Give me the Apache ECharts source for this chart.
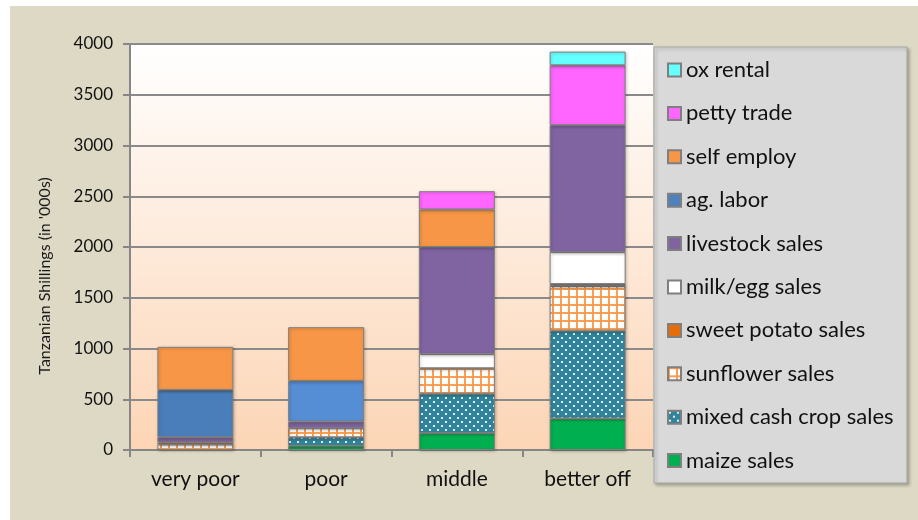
<!DOCTYPE html>
<html>
<head>
<meta charset="utf-8">
<script src="https://cdn.jsdelivr.net/npm/echarts@6/dist/echarts.min.js"></script>
<style>
html,body{margin:0;padding:0;background:#ffffff;}
#chart{width:918px;height:520px;}
</style>
</head>
<body>
<div id="chart"></div>
<script>
// ---- data (values in Tanzanian Shillings, '000s) ----
const categories = ['very poor', 'poor', 'middle', 'better off'];
const maizeSales = [0, 40, 165, 310];
const mixedCashCropSales = [0, 85, 390, 865];
const sunflowerSales = [55, 90, 250, 440];
const sweetPotatoSales = [20, 0, 0, 20];
const milkEggSales = [0, 0, 140, 315];
const livestockSales = [50, 65, 1055, 1250];
const agLabor = [466, 400, 0, 0];
const selfEmploy = [425, 530, 370, 0];
const pettyTrade = [0, 0, 180, 590];
const oxRental = [0, 0, 0, 135];
const yTickValues = [0, 500, 1000, 1500, 2000, 2500, 3000, 3500, 4000];
const yAxisTitle = "Tanzanian Shillings (in '000s)";

// ---- patterns ----
function gridPattern() {
  const c = document.createElement('canvas');
  c.width = 8; c.height = 8;
  const g = c.getContext('2d');
  g.fillStyle = '#ffffff'; g.fillRect(0, 0, 8, 8);
  g.fillStyle = 'rgba(247,150,70,0.9)';
  g.fillRect(0, 0, 2, 8);
  g.fillRect(0, 0, 8, 2);
  return c;
}
function dotPattern() {
  const c = document.createElement('canvas');
  c.width = 8; c.height = 8;
  const g = c.getContext('2d');
  g.fillStyle = '#31849b'; g.fillRect(0, 0, 8, 8);
  g.fillStyle = '#dbeef3';
  g.fillRect(1, 1, 2, 2);
  g.fillRect(5, 5, 2, 2);
  return c;
}
const sunflowerFill = { image: gridPattern(), repeat: 'repeat' };
const mixedFill = { image: dotPattern(), repeat: 'repeat' };

const FONT = "Lato, 'Open Sans', sans-serif";
const nz = arr => arr.map(v => (v === 0 ? '-' : v));

const seriesDefs = [
  { name: 'maize sales', data: maizeSales, color: '#00b050' },
  { name: 'mixed cash crop sales', data: mixedCashCropSales, color: mixedFill },
  { name: 'sunflower sales', data: sunflowerSales, color: sunflowerFill },
  { name: 'sweet potato sales', data: sweetPotatoSales, color: '#e46c0a' },
  { name: 'milk/egg sales', data: milkEggSales, color: '#ffffff' },
  { name: 'livestock sales', data: livestockSales, color: '#8064a2' },
  { name: 'ag. labor', data: agLabor, color: '#4f81bd', itemColors: ['#4a7ebb', '#558ed5', null, null] },
  { name: 'self employ', data: selfEmploy, color: '#f79646' },
  { name: 'petty trade', data: pettyTrade, color: '#ff66ff' },
  { name: 'ox rental', data: oxRental, color: '#66ffff' }
];

const series = seriesDefs.map(d => ({
  name: d.name,
  type: 'bar',
  stack: 'total',
  barWidth: 76,
  itemStyle: {
    color: d.color,
    borderColor: '#7f7f7f',
    borderWidth: 1,
    shadowBlur: 3,
    shadowColor: 'rgba(0,0,0,0.25)',
    shadowOffsetX: 1,
    shadowOffsetY: 1
  },
  data: nz(d.data).map((v, i) => (d.itemColors && d.itemColors[i] && v !== '-')
    ? { value: v, itemStyle: { color: d.itemColors[i] } } : v)
}));

const chart = echarts.init(document.getElementById('chart'), null, { renderer: 'canvas' });
chart.setOption({
  animation: false,
  backgroundColor: '#ffffff',
  textStyle: { fontFamily: FONT },
  graphic: [
    { type: 'rect', z: -10, shape: { x: 10, y: 6, width: 908, height: 514 }, style: { fill: '#ddd9c4' }, silent: true },
    { type: 'rect', z: 1, shape: { x: 654, y: 47, width: 253, height: 436 },
      style: { fill: '#d9d9d9', stroke: '#a6a6a6', lineWidth: 1, shadowBlur: 3, shadowOffsetX: 2, shadowOffsetY: 2, shadowColor: 'rgba(0,0,0,0.25)' }, silent: true },
    { type: 'text', z: 5, x: 45, y: 276, rotation: Math.PI / 2,
      style: { text: yAxisTitle, fill: '#1a1a1a', font: '16px ' + FONT, align: 'center', verticalAlign: 'middle' } }
  ],
  grid: {
    left: 130, right: 265, top: 44, bottom: 70,
    show: true, borderWidth: 0,
    backgroundColor: { type: 'linear', x: 0, y: 0, x2: 0, y2: 1,
      colorStops: [{ offset: 0, color: '#ffffff' }, { offset: 1, color: '#fcd5b5' }] }
  },
  legend: {
    orient: 'vertical',
    left: 667, top: 59,
    padding: 0,
    itemGap: 21.4,
    itemWidth: 13, itemHeight: 13,
    icon: 'rect',
    textStyle: { fontSize: 22, lineHeight: 22, color: '#111111', fontFamily: FONT },
    data: seriesDefs.map(d => d.name).reverse()
  },
  xAxis: {
    type: 'category',
    data: categories,
    axisLine: { lineStyle: { color: '#868686', width: 2 } },
    axisTick: { show: true, length: 7, lineStyle: { color: '#868686', width: 2 } },
    axisLabel: { fontSize: 21, color: '#111111', margin: 19, fontFamily: FONT }
  },
  yAxis: {
    type: 'value',
    min: yTickValues[0], max: yTickValues[yTickValues.length - 1], interval: 500,
    axisLine: { show: true, lineStyle: { color: '#868686', width: 2 } },
    axisTick: { show: true, length: 7, lineStyle: { color: '#868686', width: 2 } },
    splitLine: { show: true, lineStyle: { color: '#8a8a8a', width: 2 } },
    axisLabel: { fontSize: 17, color: '#111111', margin: 17, fontFamily: FONT,
      formatter: v => String(v) }
  },
  series: series
});
</script>
</body>
</html>
